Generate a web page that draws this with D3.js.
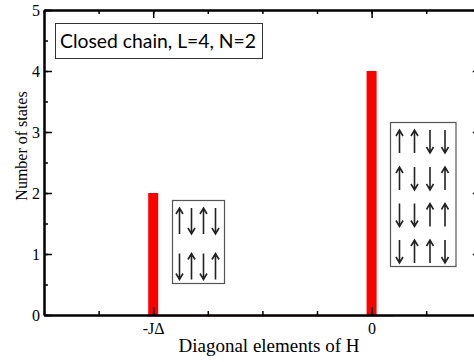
<!doctype html>
<html lang="en">
<head>
  <meta charset="UTF-8">
  <title>Diagonal elements of H</title>
  <style>
    * { padding: 0; margin: 0; }
    body { background: #fff; }
    .tick text { font-family: "Liberation Serif", "DejaVu Serif", serif; font-size: 16px; fill: #000; }
    .axis path, .axis line { stroke: #000; }
  </style>
  <script src="https://cdn.jsdelivr.net/npm/d3@7"></script>
</head>
<body>
  <svg width="474" height="362"></svg>
  <script>
    // data
    var categories = ["-J\u0394", "0"];
    var positions = [-1, 0];          // -JΔ taken as -1 on the axis
    var counts = [2, 4];
    var statesA = ["\u2191\u2193\u2191\u2193", "\u2193\u2191\u2193\u2191"];
    var statesB = ["\u2191\u2191\u2193\u2193", "\u2191\u2193\u2193\u2191", "\u2193\u2193\u2191\u2191", "\u2193\u2191\u2191\u2193"];
    var yTicks = [0, 1, 2, 3, 4, 5];

    var marge = { top: 10, left: 44, bottom: 47 };
    var svg = d3.select("svg");

    var x = d3.scaleLinear().domain([-1.5, 0.5]).range([44, 480.8]);
    var y = d3.scaleLinear().domain([0, 5]).range([315, 10]);

    var minorX = d3.range(-1.5, 0.5001, 0.25);
    var minorY = d3.range(0, 5.0001, 0.5);

    // faint baseline trace under the bars
    svg.append("line")
      .attr("x1", x(-1.03)).attr("x2", x(0.1))
      .attr("y1", y(0) + 1).attr("y2", y(0) + 1)
      .attr("stroke", "#f6b0b0").attr("stroke-width", 2);

    // bars
    svg.selectAll("rect.bar")
      .data(counts)
      .enter()
      .append("rect")
      .attr("class", "bar")
      .attr("x", function (d, i) { return x(positions[i]) - 5; })
      .attr("y", function (d) { return y(d); })
      .attr("width", 10)
      .attr("height", function (d) { return y(0) - y(d); })
      .attr("fill", "#ff0000");

    // axes: minor ticks first, then major with labels
    function addAxis(axis, tx, ty) {
      return svg.append("g")
        .attr("class", "axis")
        .attr("transform", "translate(" + tx + "," + ty + ")")
        .call(axis);
    }

    // bottom
    addAxis(d3.axisBottom(x).tickValues(minorX).tickSizeInner(-4).tickSizeOuter(0).tickFormat(""), 0, y(0));
    var bx = addAxis(d3.axisBottom(x).tickValues(positions).tickSizeInner(-8).tickSizeOuter(0).tickPadding(8)
      .tickFormat(function (d, i) { return categories[i]; }), 0, y(0));
    // top
    addAxis(d3.axisTop(x).tickValues(minorX).tickSizeInner(-4).tickSizeOuter(0).tickFormat(""), 0, y(5));
    addAxis(d3.axisTop(x).tickValues(positions).tickSizeInner(-8).tickSizeOuter(0).tickFormat(""), 0, y(5));
    // left
    addAxis(d3.axisLeft(y).tickValues(minorY).tickSizeInner(-4).tickSizeOuter(0).tickFormat(""), x(-1.5), 0);
    addAxis(d3.axisLeft(y).tickValues(yTicks).tickSizeInner(-8).tickSizeOuter(0).tickPadding(4)
      .tickFormat(d3.format("d")), x(-1.5), 0);
    // right
    addAxis(d3.axisRight(y).tickValues(minorY).tickSizeInner(-4).tickSizeOuter(0).tickFormat(""), x(0.5), 0);
    addAxis(d3.axisRight(y).tickValues(yTicks).tickSizeInner(-8).tickSizeOuter(0).tickFormat(""), x(0.5), 0);

    svg.selectAll(".axis path.domain").attr("stroke-width", 2);
    svg.selectAll(".axis line").attr("stroke-width", 1.5);

    // axis titles
    svg.append("text")
      .attr("x", 269).attr("y", 352)
      .attr("text-anchor", "middle")
      .style("font-family", "'Liberation Serif', serif")
      .style("font-size", "19px")
      .text("Diagonal elements of H");

    svg.append("text")
      .attr("transform", "translate(27,146) rotate(-90)")
      .attr("text-anchor", "middle")
      .style("font-family", "'Liberation Serif', serif")
      .style("font-size", "16px")
      .text("Number of states");

    // legend box
    svg.append("rect")
      .attr("x", 55.5).attr("y", 23.5).attr("width", 207).attr("height", 35)
      .attr("fill", "#fff").attr("stroke", "#333").attr("stroke-width", 1);
    svg.append("text")
      .attr("x", 60).attr("y", 47.5)
      .attr("textLength", 196).attr("lengthAdjust", "spacingAndGlyphs")
      .style("font-family", "Lato, 'Open Sans', sans-serif")
      .style("font-size", "19px")
      .text("Closed chain, L=4, N=2");

    // spin configuration boxes
    function arrow(g, cx, cy, up, len) {
      var h = len / 2, tip = up ? cy - h : cy + h, s = up ? 1 : -1;
      g.append("path")
        .attr("d", "M" + cx + "," + (cy - h) + "V" + (cy + h) +
          "M" + (cx - 3.5) + "," + (tip + s * 6) + "L" + cx + "," + tip + "L" + (cx + 3.5) + "," + (tip + s * 6))
        .attr("fill", "none").attr("stroke", "#222").attr("stroke-width", 1.6);
    }

    function spinBox(states, bx0, by0, bw, bh, cols, rows, len) {
      var g = svg.append("g");
      g.append("rect")
        .attr("x", bx0).attr("y", by0).attr("width", bw).attr("height", bh)
        .attr("fill", "#fff").attr("stroke", "#555").attr("stroke-width", 1.2);
      states.forEach(function (st, r) {
        Array.from(st).forEach(function (ch, c) {
          arrow(g, cols[c], rows[r], ch === "\u2191", len);
        });
      });
    }

    spinBox(statesA, 172.5, 200.5, 52, 83, [179.5, 191.5, 203.5, 215.5], [221, 266.5], 26);
    spinBox(statesB, 390.5, 122.5, 65.5, 144, [399.5, 414.5, 430, 445], [141.5, 178.5, 215, 251.5], 23);
  </script>
</body>
</html>
